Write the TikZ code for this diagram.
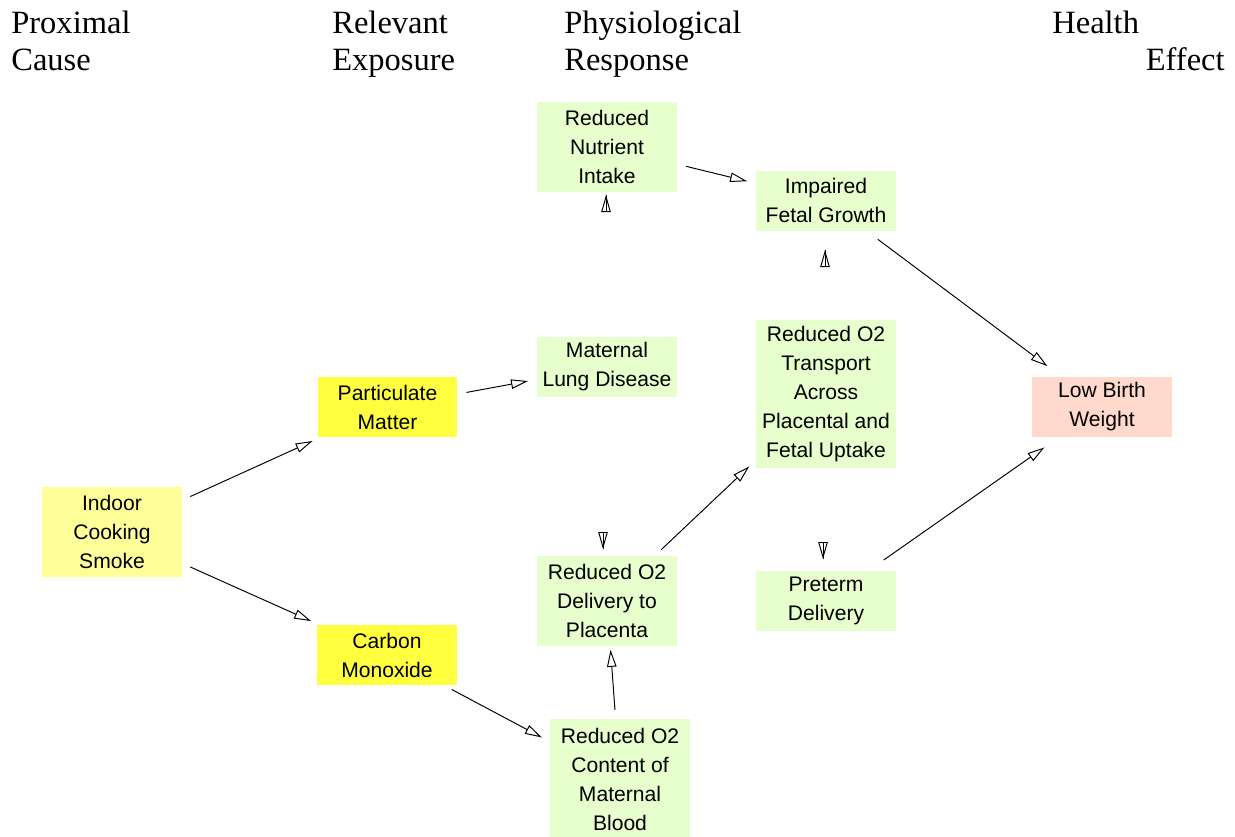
\documentclass[tikz,border=0pt]{standalone}
\usepackage{fontspec}
\setmainfont{Liberation Serif}
\newfontfamily\boxfont{Liberation Sans}
\usetikzlibrary{arrows.meta}
\definecolor{smokeyellow}{HTML}{FFFF99}
\definecolor{expyellow}{HTML}{FFFF40}
\definecolor{physgreen}{HTML}{E6FFCC}
\definecolor{effectpink}{HTML}{FFD9CC}

\begin{document}
\begin{tikzpicture}[x=0.02cm, y=-0.02cm,
  head/.style={inner sep=0pt, align=left, font=\fontsize{18.5}{21}\selectfont},
  box/.style={inner sep=0pt, minimum width=2.8cm, align=center, font=\boxfont\fontsize{12}{16.5}\selectfont},
  arr/.style={line width=0.55pt, -{Triangle[open, length=0.34cm, width=0.19cm]}, shorten <=5pt, shorten >=5pt},
  tip/.style={arr, shorten <=0pt, shorten >=0pt}]
  \useasboundingbox (0,0) rectangle (1235,836);

  % column headings
  \node[head, anchor=base west] (cause) at (11,70) {Proximal\\Cause};
  \node[head, anchor=base west] (exposure) at (332,70) {Relevant\\Exposure};
  \node[head, anchor=base west] (response) at (564,70) {Physiological\\Response};
  \node[head, anchor=base west] (health) at (1052,33) {Health};
  \node[head, anchor=base east] (effect) at (1225,70) {Effect};

  % cause and exposures
  \node[box, fill=smokeyellow, minimum height=1.8cm] (smoke) at (112,532) {Indoor\\Cooking\\Smoke};
  \node[box, fill=expyellow, minimum height=1.2cm] (pm) at (387.5,407) {Particulate\\Matter};
  \node[box, fill=expyellow, minimum height=1.2cm] (co) at (387,655) {Carbon\\Monoxide};

  % physiological responses
  \node[box, fill=physgreen, minimum height=1.8cm] (nutrient) at (607,147) {Reduced\\Nutrient\\Intake};
  \node[box, fill=physgreen, minimum height=1.2cm] (growth) at (826,200.5) {Impaired\\Fetal Growth};
  \node[box, fill=physgreen, minimum height=1.2cm] (lung) at (607,366.5) {Maternal\\Lung Disease};
  \node[box, fill=physgreen, minimum height=2.96cm] (transport) at (826,394) {Reduced O2\\Transport\\Across\\Placental and\\Fetal Uptake};
  \node[box, fill=physgreen, minimum height=1.8cm] (delivery) at (607,601) {Reduced O2\\Delivery to\\Placenta};
  \node[box, fill=physgreen, minimum height=1.2cm] (preterm) at (826,600.5) {Preterm\\Delivery};
  \node[box, fill=physgreen, minimum height=2.4cm] (content) at (620,779) {Reduced O2\\Content of\\Maternal\\Blood};

  % health effect
  \node[box, fill=effectpink, minimum height=1.2cm] (lbw) at (1102,407) {Low Birth\\Weight};

  % links
  \draw[arr] (smoke) -- (pm);
  \draw[arr] (smoke) -- (co);
  \draw[arr] (pm) -- (lung);
  \draw[arr] (co) -- (content);
  \draw[arr, shorten >=2pt] (content) -- (delivery);
  \draw[arr] (delivery) -- (transport);
  \draw[arr] (nutrient) -- (growth);
  \draw[arr, shorten <=8pt, shorten >=10pt] (growth) -- (lbw);
  \draw[arr, shorten <=10pt, shorten >=10pt] (preterm) -- (lbw);

  % loose arrow heads
  \coordinate (upA) at (606,195);
  \coordinate (upB) at (825,250);
  \coordinate (downA) at (603,549);
  \coordinate (downB) at (823,559);
  \draw[tip] ([yshift=-0.2pt]upA) -- (upA);
  \draw[tip] ([yshift=-0.2pt]upB) -- (upB);
  \draw[tip] ([yshift=0.2pt]downA) -- (downA);
  \draw[tip] ([yshift=0.2pt]downB) -- (downB);
\end{tikzpicture}
\end{document}
